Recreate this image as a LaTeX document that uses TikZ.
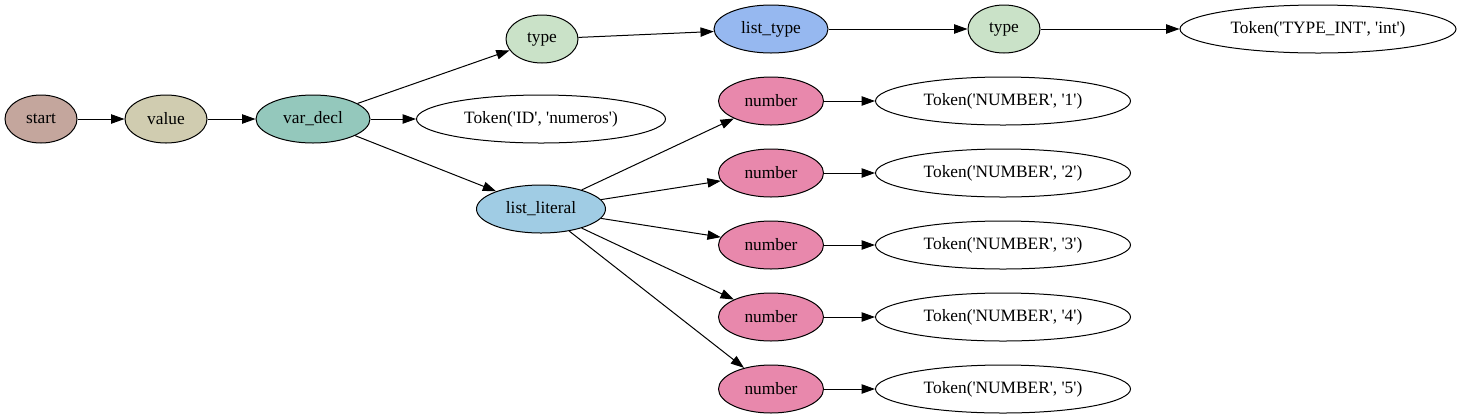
\documentclass[tikz,border=0pt]{standalone}
\usepackage{fontspec}
\setmainfont{Liberation Serif}
\usetikzlibrary{shapes.geometric,arrows.meta}
\newcommand{\sq}{\textquotesingle}
\definecolor{cstart}{RGB}{196,166,157}
\definecolor{cvalue}{RGB}{208,204,176}
\definecolor{cvardecl}{RGB}{148,200,188}
\definecolor{ctype}{RGB}{202,226,200}
\definecolor{clisttype}{RGB}{150,184,240}
\definecolor{clistlit}{RGB}{160,204,228}
\definecolor{cnumber}{RGB}{232,136,172}
\tikzset{
  gv/.style={ellipse, draw=black, line width=0.75pt, inner sep=0pt, minimum height=36pt, font=\fontsize{13}{15}\selectfont},
  edge/.style={line width=0.75pt, -{Triangle[length=10pt,width=7pt]}}
}
\begin{document}
\begin{tikzpicture}[x=0.75pt,y=-0.75pt]
\useasboundingbox (0,0) rectangle (1463,419);
\node[gv, fill=cstart, minimum width=54pt] (start) at (41,119) {start};
\node[gv, fill=cvalue, minimum width=61.5pt] (value) at (166,119) {value};
\node[gv, fill=cvardecl, minimum width=85.5pt] (vardecl) at (313,119) {var\_decl};
\node[gv, fill=white, minimum width=186.75pt] (tid) at (541,119) {Token(\sq ID\sq, \sq numeros\sq)};
\node[gv, fill=ctype, minimum width=54pt] (type1) at (542,39) {type};
\node[gv, fill=clisttype, minimum width=85.5pt] (listtype) at (771,29) {list\_type};
\node[gv, fill=ctype, minimum width=54pt] (type2) at (1004,29) {type};
\node[gv, fill=white, minimum width=207pt] (tint) at (1318,29) {Token(\sq TYPE\_INT\sq, \sq int\sq)};
\node[gv, fill=clistlit, minimum width=96.75pt] (listlit) at (541,209) {list\_literal};
\foreach \i/\y in {1/101,2/173,3/245,4/317,5/389}{
  \node[gv, fill=cnumber, minimum width=78.75pt] (num\i) at (771,\y) {number};
  \node[gv, fill=white, minimum width=191.25pt] (tnum\i) at (1003,\y) {Token(\sq NUMBER\sq, \sq\i\sq)};
}
\draw[edge] (start) -- (value);
\draw[edge] (value) -- (vardecl);
\draw[edge] (vardecl) -- (tid);
\draw[edge] (vardecl) -- (type1);
\draw[edge] (vardecl) -- (listlit);
\draw[edge] (type1) -- (listtype);
\draw[edge] (listtype) -- (type2);
\draw[edge] (type2) -- (tint);
\foreach \i in {1,...,5}{
  \draw[edge] (listlit) -- (num\i);
  \draw[edge] (num\i) -- (tnum\i);
}
\end{tikzpicture}
\end{document}
